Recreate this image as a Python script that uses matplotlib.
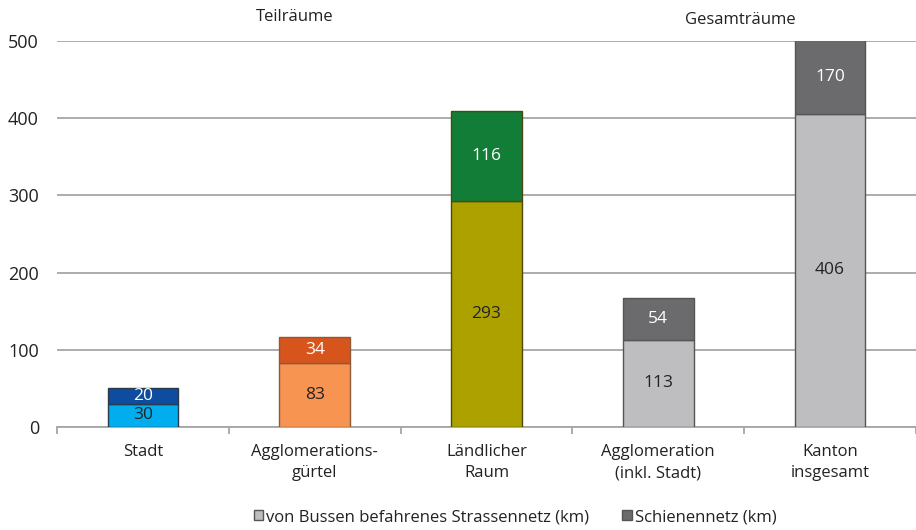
import numpy as np
import matplotlib.pyplot as plt
from matplotlib.patches import Patch

plt.rcParams['font.family'] = ['Open Sans', 'DejaVu Sans']

# Daten: Netzlänge nach Raumtyp
categories = ['Stadt', 'Agglomerations-\ngürtel', 'Ländlicher\nRaum',
              'Agglomeration\n(inkl. Stadt)', 'Kanton\ninsgesamt']
strasse = [30, 83, 293, 113, 406]
schiene = [20, 34, 116, 54, 170]

col_bottom = ['#00aeef', '#f79452', '#ada100', '#bebec1', '#bebec1']
col_top = ['#0d4c9e', '#d8541d', '#117d36', '#6b6b6e', '#6b6b6e']
edge = ['#2b3a4a', '#8a5a3a', '#4a4a10', '#555555', '#555555']

fig = plt.figure(figsize=(9.16, 5.30), dpi=100)
ax = fig.add_axes([57 / 916, 1 - 427 / 530, 1 - 57 / 916, (427 - 41) / 530])

x = np.arange(len(categories))
w = 0.41
ymax = 500

ax.bar(x, strasse, w, color=col_bottom, edgecolor=edge, linewidth=1, zorder=3)
ax.bar(x, schiene, w, bottom=strasse, color=col_top, edgecolor=edge, linewidth=1, zorder=3)

for i in range(len(x)):
    ax.text(x[i], strasse[i] / 2, str(strasse[i]), ha='center', va='center',
            fontsize=12.5, color='#222222', zorder=4)
    top_end = min(strasse[i] + schiene[i], ymax)
    ax.text(x[i], (strasse[i] + top_end) / 2, str(schiene[i]), ha='center', va='center',
            fontsize=12.5, color='white', zorder=4)

ax.set_ylim(0, ymax)
ax.set_xlim(-0.5, len(x) - 0.5)
ax.set_yticks(range(0, 501, 100))
ax.yaxis.grid(True, color='#a6a6a6', linewidth=1.3, zorder=0)
ax.set_axisbelow(True)
for s in ['left', 'right', 'top']:
    ax.spines[s].set_visible(False)
ax.spines['bottom'].set_color('#a6a6a6')
ax.spines['bottom'].set_linewidth(1.3)

ax.set_xticks(x)
ax.set_xticklabels(categories, fontsize=12, color='#222222', linespacing=1.45)
ax.set_xticks(np.arange(-0.5, len(x), 1), minor=True)
ax.tick_params(axis='x', which='major', length=0, pad=12)
ax.tick_params(axis='x', which='minor', length=5, color='#a6a6a6', width=1.3)
ax.tick_params(axis='y', length=0, labelsize=13, labelcolor='#222222', pad=13)

fig.text(295 / 916, 1 - 17 / 530, 'Teilräume', ha='center', va='center', fontsize=12, color='#222222')
fig.text(740 / 916, 1 - 20 / 530, 'Gesamträume', ha='center', va='center', fontsize=12, color='#222222')

handles = [Patch(facecolor='#bebec1', edgecolor='#555555', label='von Bussen befahrenes Strassennetz (km)'),
           Patch(facecolor='#6b6b6e', edgecolor='#555555', label='Schienennetz (km)')]
fig.legend(handles=handles, loc='center', bbox_to_anchor=(515 / 916, 1 - 517 / 530), ncol=2,
           frameon=False, fontsize=12, handlelength=0.55, handleheight=0.55,
           handletextpad=0.2, columnspacing=2.0, labelcolor='#222222')

fig.savefig('out.png', dpi=100)
